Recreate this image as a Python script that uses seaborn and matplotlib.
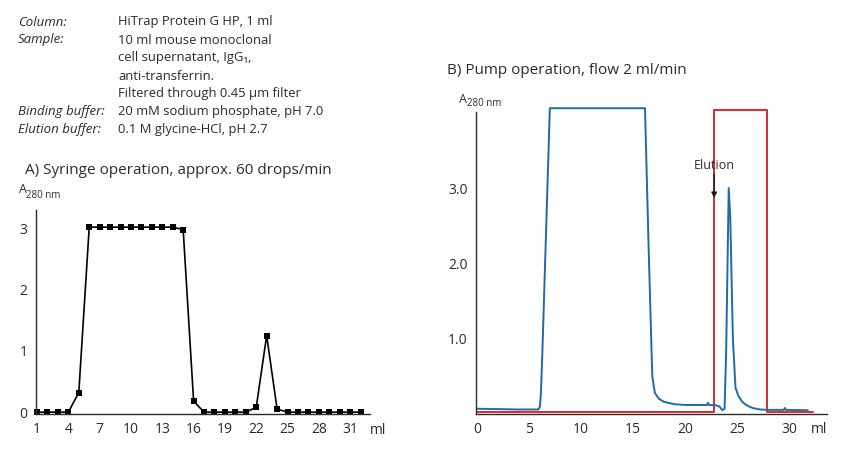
import matplotlib
matplotlib.use("Agg")
import matplotlib.pyplot as plt
import seaborn as sns
import pandas as pd

# A) syringe operation, fraction readings
syr_ml = list(range(1, 33))
syr_a280 = [0, 0, 0, 0, 0.32, 3.02, 3.02, 3.02, 3.02, 3.02, 3.02, 3.02, 3.02, 3.02, 2.98, 0.18,
            0, 0, 0, 0, 0, 0.08, 1.25, 0.05, 0, 0, 0, 0, 0, 0, 0, 0]
syr_ticks = [1, 4, 7, 10, 13, 16, 19, 22, 25, 28, 31]

# B) pump operation, UV trace and elution buffer step
uv_ml = [0, 2, 4, 5.9, 6.05, 6.15, 6.3, 7.0, 16.15, 16.5, 16.85, 17.1, 17.5, 18.0, 19.0, 20.0,
         21.0, 22.1, 22.2, 22.3, 23.0, 23.3, 23.6, 23.8, 23.95, 24.2, 24.35, 24.6, 24.85, 25.1,
         25.5, 26.0, 26.5, 27.2, 28.0, 29.5, 29.6, 29.7, 31.8]
uv_a280 = [0.07, 0.065, 0.06, 0.06, 0.1, 0.3, 0.9, 4.06, 4.06, 2.2, 0.5, 0.28, 0.2, 0.16, 0.13, 0.12,
           0.12, 0.12, 0.15, 0.12, 0.115, 0.1, 0.05, 0.07, 0.8, 3.0, 2.6, 1.0, 0.35, 0.25,
           0.16, 0.11, 0.08, 0.06, 0.055, 0.055, 0.08, 0.055, 0.05]
buf_ml = [0, 22.8, 22.8, 27.85, 27.85, 32.3]
buf_level = [0.02, 0.02, 4.04, 4.04, 0.02, 0.02]
pump_ticks = [0, 5, 10, 15, 20, 25, 30]
pump_yticks = [1.0, 2.0, 3.0]

info_keys = ["Column:", "Sample:", "", "", "", "Binding buffer:", "Elution buffer:"]
info_vals = ["HiTrap Protein G HP, 1 ml", "10 ml mouse monoclonal", "cell supernatant, IgG\u2081,",
             "anti-transferrin.", "Filtered through 0.45 \u00b5m filter",
             "20 mM sodium phosphate, pH 7.0", "0.1 M glycine-HCl, pH 2.7"]

sns.set_style("white")
plt.rcParams["font.family"] = ["Open Sans", "DejaVu Sans"]
ink = "#2b2b2b"

W, H = 850, 454
fig = plt.figure(figsize=(8.5, 4.54), dpi=100)

def box(l, t, r, b):
    return [l / W, 1 - b / H, (r - l) / W, (b - t) / H]

def style(ax):
    sns.despine(ax=ax)
    for s in ["left", "bottom"]:
        ax.spines[s].set_color(ink)
        ax.spines[s].set_linewidth(1.0)
    ax.tick_params(axis="both", length=3, width=0.9, color=ink, labelcolor=ink,
                   labelsize=10, pad=3, direction="out")
    ax.set_xlabel("")
    ax.set_ylabel("")

# info block
for i, (k, v) in enumerate(zip(info_keys, info_vals)):
    y = 1 - (22 + i * 18) / H
    fig.text(18 / W, y, k, fontsize=9.5, style="italic", color=ink, va="center")
    fig.text(118 / W, y, v, fontsize=9.4, color=ink, va="center")

# panel A
axA = fig.add_axes(box(36, 210, 370, 414))
dfA = pd.DataFrame({"ml": syr_ml, "a": syr_a280})
sns.lineplot(data=dfA, x="ml", y="a", ax=axA, color="black", lw=1.2, marker="s",
             markersize=4.5, markeredgewidth=0, estimator=None, sort=False, clip_on=False)
axA.set_xlim(0.9, 32.9)
axA.set_ylim(-0.03, 3.3)
axA.set_xticks(syr_ticks)
axA.set_yticks([0, 1, 2, 3])
style(axA)
axA.text(1.0, -0.045, "ml", transform=axA.transAxes, ha="left", va="top", fontsize=10, color=ink)
fig.text(25 / W, 1 - 171 / H, "A) Syringe operation, approx. 60 drops/min", fontsize=11,
         color=ink, va="center")
fig.text(19 / W, 1 - 190 / H, "A", fontsize=9, color=ink, va="center")
fig.text(26 / W, 1 - 195 / H, "280 nm", fontsize=7, color=ink, va="center")

# panel B
axB = fig.add_axes(box(476, 112, 827, 414))
dfU = pd.DataFrame({"ml": uv_ml, "a": uv_a280})
dfR = pd.DataFrame({"ml": buf_ml, "a": buf_level})
sns.lineplot(data=dfR, x="ml", y="a", ax=axB, color="#e3262f", lw=1.4, estimator=None,
             sort=False, clip_on=False)
sns.lineplot(data=dfU, x="ml", y="a", ax=axB, color="#1f6aa8", lw=1.4, estimator=None,
             sort=False, clip_on=False)
axB.set_xlim(-0.1, 33.65)
axB.set_ylim(0, 4.01)
axB.set_xticks(pump_ticks)
axB.set_yticks(pump_yticks)
axB.set_yticklabels([f"{v:.1f}" for v in pump_yticks])
style(axB)
axB.text(1.0, -0.025, "ml", transform=axB.transAxes, ha="right", va="top", fontsize=10, color=ink)
axB.annotate("", xy=(22.8, 2.83), xytext=(22.8, 3.22),
             arrowprops=dict(arrowstyle="-|>", color="#1a1a1a", lw=1.0, mutation_scale=8))
axB.text(22.8, 3.3, "Elution", ha="center", va="center", fontsize=9, color=ink)
fig.text(447 / W, 1 - 71 / H, "B) Pump operation, flow 2 ml/min", fontsize=11,
         color=ink, va="center")
fig.text(459 / W, 1 - 100 / H, "A", fontsize=9, color=ink, va="center")
fig.text(467 / W, 1 - 104 / H, "280 nm", fontsize=7, color=ink, va="center")

fig.savefig("out.png", dpi=100)
